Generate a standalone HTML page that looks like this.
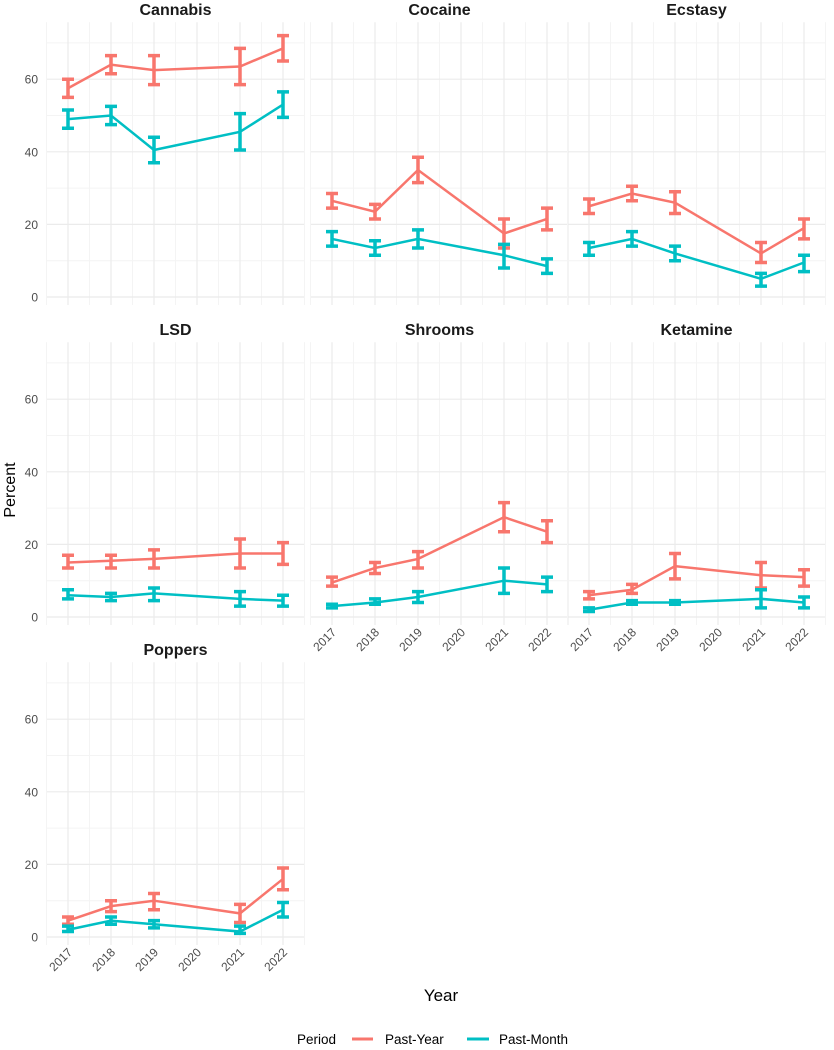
<!DOCTYPE html>
<html><head><meta charset="utf-8"><style>
body{margin:0;background:#fff;}
svg{display:block;font-family:"Liberation Sans",sans-serif;}
</style></head><body>
<svg id="chart" width="834" height="1050" viewBox="0 0 834 1050"></svg>
<script>
const years=[2017,2018,2019,2021,2022];
const drugs=["Cannabis","Cocaine","Ecstasy","LSD","Shrooms","Ketamine","Poppers"];
const pyVal=[[57.5,64,62.5,63.5,68.5],[26.5,23.5,35,17.5,21.5],[25,28.5,26,12,19],[15,15.5,16,17.5,17.5],[9.5,13.5,16,27.5,23.5],[6,7.5,14,11.5,11],[4.5,8.5,10,6.5,16]];
const pyLo=[[55,61.5,58.5,58.5,65],[24.5,21.5,31.5,13.5,18.5],[23,26.5,23,9.5,16],[13.5,13.5,13.5,13.5,14.5],[8.5,12,13.5,23.5,20.5],[5,6.5,10.5,8,8.5],[3.5,7,7.5,4,13]];
const pyHi=[[60,66.5,66.5,68.5,72],[28.5,25.5,38.5,21.5,24.5],[27,30.5,29,15,21.5],[17,17,18.5,21.5,20.5],[11,15,18,31.5,26.5],[7,9,17.5,15,13],[5.5,10,12,9,19]];
const pmVal=[[49,50,40.5,45.5,53],[16,13.5,16,11.5,8.5],[13.5,16,12,5,9.5],[6,5.5,6.5,5,4.5],[3,4,5.5,10,9],[2,4,4,5,4],[2,4.5,3.5,1.5,7.5]];
const pmLo=[[46.5,47.5,37,40.5,49.5],[14,11.5,13.5,8,6.5],[11.5,14,10,3,7],[5,4.5,4.5,3,3],[2.5,3.5,4,6.5,7],[1.5,3.5,3.5,2.5,2.5],[1.5,3.5,2.5,1,5.5]];
const pmHi=[[51.5,52.5,44,50.5,56.5],[18,15.5,18.5,14.5,10.5],[15,18,14,6.5,11.5],[7.5,6.5,8,7,6],[3.5,5,7,13.5,11],[2.5,4.5,4.5,7.5,5.5],[3,5.5,4.5,3,9.5]];
const yTicks=[0,20,40,60];
const xTicks=[2017,2018,2019,2020,2021,2022];
const RED="#f8766d",TEAL="#00bfc4";
const NS="http://www.w3.org/2000/svg";
const svg=document.getElementById('chart');
function mk(t,a,p){const e=document.createElementNS(NS,t);for(const k in a)e.setAttribute(k,a[k]);(p||svg).appendChild(e);return e;}
const colL=[47,311,568],W=257,rowZero=[297,617,937],PXU=3.63;
drugs.forEach((d,i)=>{
  const c=i===6?0:i%3,r=Math.floor(i/3);
  const L=colL[c],z=rowZero[r];
  const sx=y=>L+21+(y-2017)*(W-42)/5;
  const sy=v=>z-v*PXU;
  const g=mk('g',{});
  
  
  const top=sy(75.7),bot=sy(-2.2);
  for(let v=10;v<=70;v+=20)mk('line',{x1:L,x2:L+W,y1:sy(v),y2:sy(v),stroke:'#f4f4f4','stroke-width':1},g);
  for(let y=2016.5;y<=2022.5;y+=1)mk('line',{x1:sx(y),x2:sx(y),y1:top,y2:bot,stroke:'#f4f4f4','stroke-width':1},g);
  yTicks.forEach(v=>{mk('line',{x1:L,x2:L+W,y1:sy(v),y2:sy(v),stroke:'#ebebeb','stroke-width':1.2},g);
    if(c===0){const t=mk('text',{x:38,y:sy(v)+4.5,'text-anchor':'end','font-size':12,fill:'#4d4d4d'},g);t.textContent=v;}});
  xTicks.forEach(y=>{mk('line',{x1:sx(y),x2:sx(y),y1:top,y2:bot,stroke:'#ebebeb','stroke-width':1.2},g);
    if(i>=4){const t=mk('text',{transform:`translate(${sx(y)+5},${bot+8}) rotate(-45)`,'text-anchor':'end','font-size':12,fill:'#4d4d4d'},g);t.textContent=y;}});
  const tt=mk('text',{x:L+W/2,y:z-282,'text-anchor':'middle','font-size':16,'font-weight':'bold',fill:'#1a1a1a'},g);
  tt.textContent=d;
  
  
  [[pyVal,pyLo,pyHi,RED,'past-year'],[pmVal,pmLo,pmHi,TEAL,'past-month']].forEach(([V,Lo,Hi,col,nm])=>{
    const pts=years.map((y,j)=>sx(y)+','+sy(V[i][j])).join(' ');
    const pl=mk('polyline',{points:pts,fill:'none',stroke:col,'stroke-width':2.5},g);
    
    
    years.forEach((y,j)=>{
      const x=sx(y),a=sy(Lo[i][j]),b=sy(Hi[i][j]);
      const eb=mk('path',{d:`M${x-6},${a}H${x+6}M${x},${a}V${b}M${x-6},${b}H${x+6}`,stroke:col,'stroke-width':3.5,fill:'none'},g);
      
      
    });
  });
});
const yl=mk('text',{transform:'translate(15,490) rotate(-90)','text-anchor':'middle','font-size':16,fill:'#000'});
yl.textContent='Percent';


const xl=mk('text',{x:441,y:1001,'text-anchor':'middle','font-size':17,fill:'#000'});
xl.textContent='Year';


const lg=mk('g',{});


const lt=mk('text',{x:297,y:1044,'font-size':13.5,fill:'#000'},lg);lt.textContent='Period';
mk('line',{x1:352,x2:373,y1:1039,y2:1039,stroke:RED,'stroke-width':3},lg);
const l1=mk('text',{x:385,y:1044,'font-size':13.5,fill:'#000'},lg);l1.textContent='Past-Year';


mk('line',{x1:467,x2:489,y1:1039,y2:1039,stroke:TEAL,'stroke-width':3},lg);
const l2=mk('text',{x:499,y:1044,'font-size':13.5,fill:'#000'},lg);l2.textContent='Past-Month';


</script>
</body></html>
